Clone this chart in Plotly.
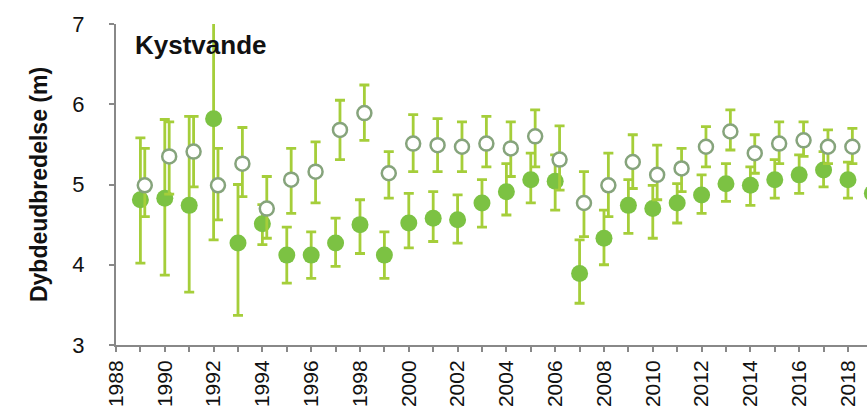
import plotly.graph_objects as go

years = list(range(1989, 2020))

# Filled circles (mean, upper, lower)
filled = [4.81, 4.83, 4.74, 5.82, 4.27, 4.51, 4.12, 4.12, 4.27, 4.50,
          4.12, 4.52, 4.58, 4.56, 4.77, 4.91, 5.06, 5.04, 3.89, 4.33,
          4.74, 4.70, 4.77, 4.87, 5.01, 4.99, 5.06, 5.12, 5.18, 5.06, 4.89]
filled_hi = [5.58, 5.81, 5.85, 7.30, 5.00, 4.75, 4.47, 4.41, 4.58, 4.81,
             4.41, 4.89, 4.91, 4.87, 5.06, 5.26, 5.39, 5.37, 4.31, 4.68,
             5.06, 4.99, 5.01, 5.12, 5.26, 5.22, 5.31, 5.37, 5.41, 5.28, 5.12]
filled_lo = [4.02, 3.87, 3.66, 4.31, 3.37, 4.25, 3.77, 3.83, 3.98, 4.14,
             3.83, 4.21, 4.29, 4.27, 4.47, 4.62, 4.77, 4.68, 3.52, 4.00,
             4.39, 4.33, 4.52, 4.64, 4.79, 4.74, 4.83, 4.89, 4.97, 4.83, 4.66]

# Open circles (mean, upper, lower)
opened = [4.99, 5.35, 5.41, 4.99, 5.26, 4.70, 5.06, 5.16, 5.68, 5.89,
          5.14, 5.51, 5.49, 5.47, 5.51, 5.45, 5.60, 5.31, 4.77, 4.99,
          5.28, 5.12, 5.20, 5.47, 5.66, 5.39, 5.51, 5.55, 5.47, 5.47, 5.22]
opened_hi = [5.45, 5.78, 5.85, 5.45, 5.71, 5.10, 5.45, 5.53, 6.05, 6.24,
             5.41, 5.87, 5.82, 5.78, 5.85, 5.78, 5.93, 5.73, 5.16, 5.39,
             5.62, 5.49, 5.45, 5.72, 5.93, 5.62, 5.78, 5.78, 5.68, 5.70, 5.45]
opened_lo = [4.60, 4.88, 4.97, 4.56, 4.85, 4.33, 4.64, 4.77, 5.31, 5.55,
             4.83, 5.16, 5.16, 5.16, 5.22, 5.10, 5.22, 4.93, 4.35, 4.60,
             4.95, 4.81, 4.91, 5.22, 5.43, 5.14, 5.26, 5.35, 5.26, 5.26, 4.99]

tick_years = list(range(1988, 2020))
tick_labels = [str(y) if y % 2 == 0 else "" for y in tick_years]
y_ticks = [3, 4, 5, 6, 7]

FONT = "Liberation Sans, Arial, sans-serif"
GREEN = "#7cc243"
BAR = "#a5ce3a"
OPEN_LINE = "#86a47c"
OFFSET = 0.18

fig = go.Figure()

fig.add_trace(go.Scatter(
    x=years, y=filled, mode="markers",
    marker=dict(size=17, color=GREEN, line=dict(width=0)),
    error_y=dict(type="data", symmetric=False,
                 array=[h - m for h, m in zip(filled_hi, filled)],
                 arrayminus=[m - l for m, l in zip(filled, filled_lo)],
                 color=BAR, thickness=2.8, width=5),
))

fig.add_trace(go.Scatter(
    x=[y + OFFSET for y in years], y=opened, mode="markers",
    marker=dict(size=14, color="white", line=dict(width=2.5, color=OPEN_LINE)),
    error_y=dict(type="data", symmetric=False,
                 array=[h - m for h, m in zip(opened_hi, opened)],
                 arrayminus=[m - l for m, l in zip(opened, opened_lo)],
                 color=BAR, thickness=2.8, width=5),
))

fig.add_annotation(
    text="<b>Kystvande</b>", xref="paper", yref="y",
    x=0.022, y=6.74, xanchor="left", yanchor="middle",
    showarrow=False, font=dict(family=FONT, size=26, color="#111111"),
)

fig.update_layout(
    width=867, height=416,
    margin=dict(l=116, r=0, t=24, b=71, autoexpand=False),
    paper_bgcolor="white", plot_bgcolor="white",
    showlegend=False,
    font=dict(family=FONT, color="#111111"),
    xaxis=dict(
        range=[1988, 2018.78], tickmode="array",
        tickvals=tick_years, ticktext=tick_labels,
        tickangle=-90, ticks="outside", ticklen=5, tickwidth=1.5,
        tickcolor="#888888", showline=True, linecolor="#888888", linewidth=2,
        showgrid=False, zeroline=False, automargin=False,
        tickfont=dict(family=FONT, size=21, color="#111111"),
    ),
    yaxis=dict(
        range=[3, 7], tickmode="array", tickvals=y_ticks,
        ticks="outside", ticklen=5, tickwidth=1.5, tickcolor="#888888",
        showline=True, linecolor="#888888", linewidth=2,
        showgrid=False, zeroline=False, automargin=False,
        ticklabelstandoff=20,
        tickfont=dict(family=FONT, size=22, color="#111111"),
        title=dict(text="<b>Dybdeudbredelse (m)</b>", standoff=18,
                   font=dict(family=FONT, size=23, color="#111111")),
    ),
)

fig.write_html(
    "out.html",
    config={"displayModeBar": False},
    post_script="document.body.style.margin='0';document.body.style.overflow='hidden';",
)
